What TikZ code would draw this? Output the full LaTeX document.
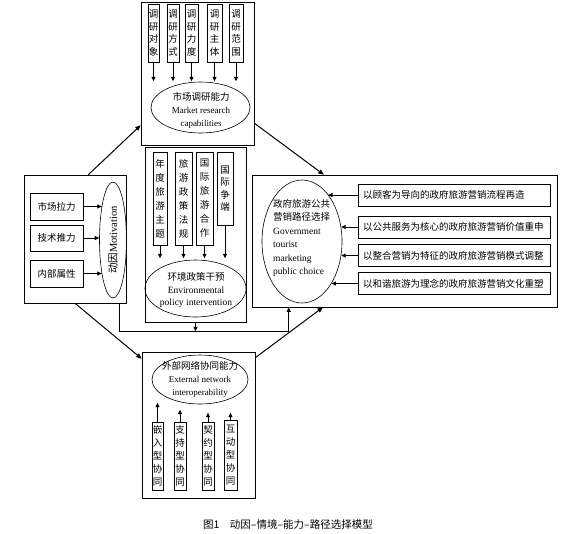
\documentclass[tikz,border=0pt]{standalone}
\usepackage{fontspec}
\setmainfont{Liberation Serif}
\newfontfamily\cjk{Noto Sans CJK SC}
\usetikzlibrary{arrows.meta,calc,shapes.geometric}
\newcommand\zhv[1]{\cjk\fontsize{9.5}{#1}\selectfont}
\begin{document}
\begin{tikzpicture}[x=1pt,y=-1pt,
  box/.style={draw, line width=0.6pt, inner sep=0pt},
  vbox/.style={box, align=center, font=\zhv{12.5}},
  ell/.style={draw, ellipse, inner sep=0pt, line width=0.6pt},
  etext/.style={align=center, inner sep=0pt, font=\fontsize{9}{13}\selectfont},
  arr/.style={-{Triangle[length=4.5pt,width=4pt]}, line width=0.8pt},
  link/.style={-{Triangle[length=5.5pt,width=4.5pt]}, line width=1pt},
  hbox/.style={box, font=\cjk\fontsize{9.5}{12}\selectfont},
  rbox/.style={box, minimum height=22pt, text width=182pt, inner xsep=5pt, align=left, font=\cjk\fontsize{9.5}{12}\selectfont}
]
\useasboundingbox (0,0) rectangle (577,533);

% ---------- Market research ----------
\node[box, minimum width=113pt, minimum height=143pt] (mkt) at (197.5,73.5) {};
\node[vbox, minimum width=11pt, minimum height=58pt] (m1) at (153.5,33) {调\\研\\对\\象};
\node[vbox, minimum width=12pt, minimum height=58pt] (m2) at (173,33) {调\\研\\方\\式};
\node[vbox, minimum width=13pt, minimum height=58pt] (m3) at (191.5,33) {调\\研\\力\\度};
\node[vbox, minimum width=15pt, minimum height=58pt] (m4) at (214.5,33) {调\\研\\主\\体};
\node[vbox, minimum width=14pt, minimum height=58pt] (m5) at (236,33) {调\\研\\范\\围};
\foreach \n in {m1,m2,m3,m4,m5} \draw[arr] (\n.south) -- ++(0,19);
\node[ell, minimum width=99pt, minimum height=51pt] (mE) at (200.5,107.5) {};
\node[etext] (mT) at (201,110) {{\cjk\fontsize{9.5}{13}\selectfont 市场调研能力}\\Market research\\capabilities};

% ---------- Environmental policy ----------
\node[box, minimum width=101pt, minimum height=175pt] (env) at (195.5,234.5) {};
\node[vbox, font=\zhv{14}, minimum width=14pt, minimum height=93pt] (e1) at (160,198.5) {年\\度\\旅\\游\\主\\题};
\node[vbox, font=\zhv{14}, minimum width=17pt, minimum height=93pt] (e2) at (183.5,198.5) {旅\\游\\政\\策\\法\\规};
\node[vbox, font=\zhv{14}, minimum width=17pt, minimum height=93pt] (e3) at (204.5,198.5) {国\\际\\旅\\游\\合\\作};
\node[vbox, font=\zhv{12.5}, minimum width=16pt, minimum height=73pt] (e4) at (225,188.5) {国\\际\\争\\端};
\draw[arr] (e1.south) -- ++(0,13);
\draw[arr] (e2.south) -- ++(0,13);
\draw[arr] (e3.south) -- ++(0,13);
\draw[arr] (e4.south) -- ++(0,33);
\node[ell, minimum width=101pt, minimum height=57pt] (eE) at (195.5,288.5) {};
\node[etext, font=\fontsize{9.5}{12.5}\selectfont] (eT) at (196,290) {{\cjk 环境政策干预}\\Environmental\\policy intervention};

% ---------- Motivation ----------
\node[box, minimum width=102pt, minimum height=128pt] (mot) at (75,239) {};
\node[hbox, minimum width=53pt, minimum height=27pt] (b1) at (56.5,206.5) {市场拉力};
\node[hbox, minimum width=53pt, minimum height=26pt] (b2) at (56.5,238) {技术推力};
\node[hbox, minimum width=53pt, minimum height=27pt] (b3) at (56.5,273.5) {内部属性};
\node[ell, minimum width=27pt, minimum height=116pt] (motE) at (113,240) {};
\node[rotate=90, inner sep=0pt, font=\fontsize{10.5}{12}\selectfont] (motT) at (113,240) {{\cjk 动因}Motivation};
\draw[arr] (b1.east) -- (b1.east -| motE.108);
\draw[arr] (b2.east) -- (b2.east -| motE.172);
\draw[arr] (b3.east) -- (b3.east -| motE.-108);

% ---------- Government choice ----------
\node[box, minimum width=305pt, minimum height=132pt] (gov) at (404.5,241) {};
\node[ell, minimum width=80pt, minimum height=123pt] (gE) at (302,241.5) {};
\node[align=left, anchor=west, inner sep=0pt, font=\fontsize{9.5}{13.5}\selectfont] (gT) at (273,238) {{\cjk 政府旅游公共}\\{\cjk 营销路径选择}\\Government\\tourist\\marketing\\public choice};
\node[rbox] (r1) at (454,195) {以顾客为导向的政府旅游营销流程再造};
\node[rbox] (r2) at (454,227) {以公共服务为核心的政府旅游营销价值重申};
\node[rbox] (r3) at (454,255.5) {以整合营销为特征的政府旅游营销模式调整};
\node[rbox] (r4) at (454,283.5) {以和谐旅游为理念的政府旅游营销文化重塑};
\draw[arr] (r1.west) -- (r1.west -| gE.61);
\draw[arr] (r2.west) -- (r2.west -| gE.20);
\draw[arr] (r3.west) -- (r3.west -| gE.-20);
\draw[arr] (r4.west) -- (r4.west -| gE.-55);

% ---------- External network ----------
\node[box, minimum width=113pt, minimum height=146pt] (ext) at (198.5,425) {};
\node[ell, minimum width=96pt, minimum height=49pt] (xE) at (200,379.5) {};
\node[etext] (xT) at (200,379.5) {{\cjk\fontsize{9.5}{13}\selectfont 外部网络协同能力}\\External network\\interoperability};
\node[vbox, font=\zhv{13}, minimum width=11pt, minimum height=68pt] (x1) at (157.5,456) {嵌\\入\\型\\协\\同};
\node[vbox, font=\zhv{13}, minimum width=12pt, minimum height=68pt] (x2) at (180,456) {支\\持\\型\\协\\同};
\node[vbox, font=\zhv{13}, minimum width=12pt, minimum height=68pt] (x3) at (208,456) {契\\约\\型\\协\\同};
\node[vbox, font=\zhv{13}, minimum width=13pt, minimum height=70pt] (x4) at (230.5,455) {互\\动\\型\\协\\同};
\draw[arr] (x1.north) -- ++(0,-19);
\draw[arr] (x2.north) -- ++(0,-12);
\draw[arr] (x3.north) -- ++(0,-9);
\draw[arr] (x4.north) -- ++(0,-7);

% ---------- Connectors ----------
\draw[link] ($(mot.north west)!0.63!(mot.north east)$) -- ($(mkt.north west)!0.86!(mkt.south west)$);
\draw[link] ($(mkt.north east)!0.846!(mkt.south east)$) -- ($(gov.north west)!0.236!(gov.north east)$);
\draw[link] ($(mot.south west)!0.5!(mot.south east)$) -- ($(ext.north west)!0.048!(ext.south west)$);
\draw[link] ($(ext.north east)!0.041!(ext.south east)$) -- ($(gov.south west)!0.233!(gov.south east)$);
\draw[arr] ($(mot.south west)!0.93!(mot.south east)$) -- ++(0,28) -| ($(gov.south west)!0.121!(gov.south east)$);
\draw[arr] (env.south) -- ++(0,9);

% ---------- Caption ----------
\node[inner sep=0pt, font=\cjk\fontsize{10.5}{12}\selectfont] (cap) at (288,524) {图1\hspace{1em}动因–情境–能力–路径选择模型};
\end{tikzpicture}
\end{document}
